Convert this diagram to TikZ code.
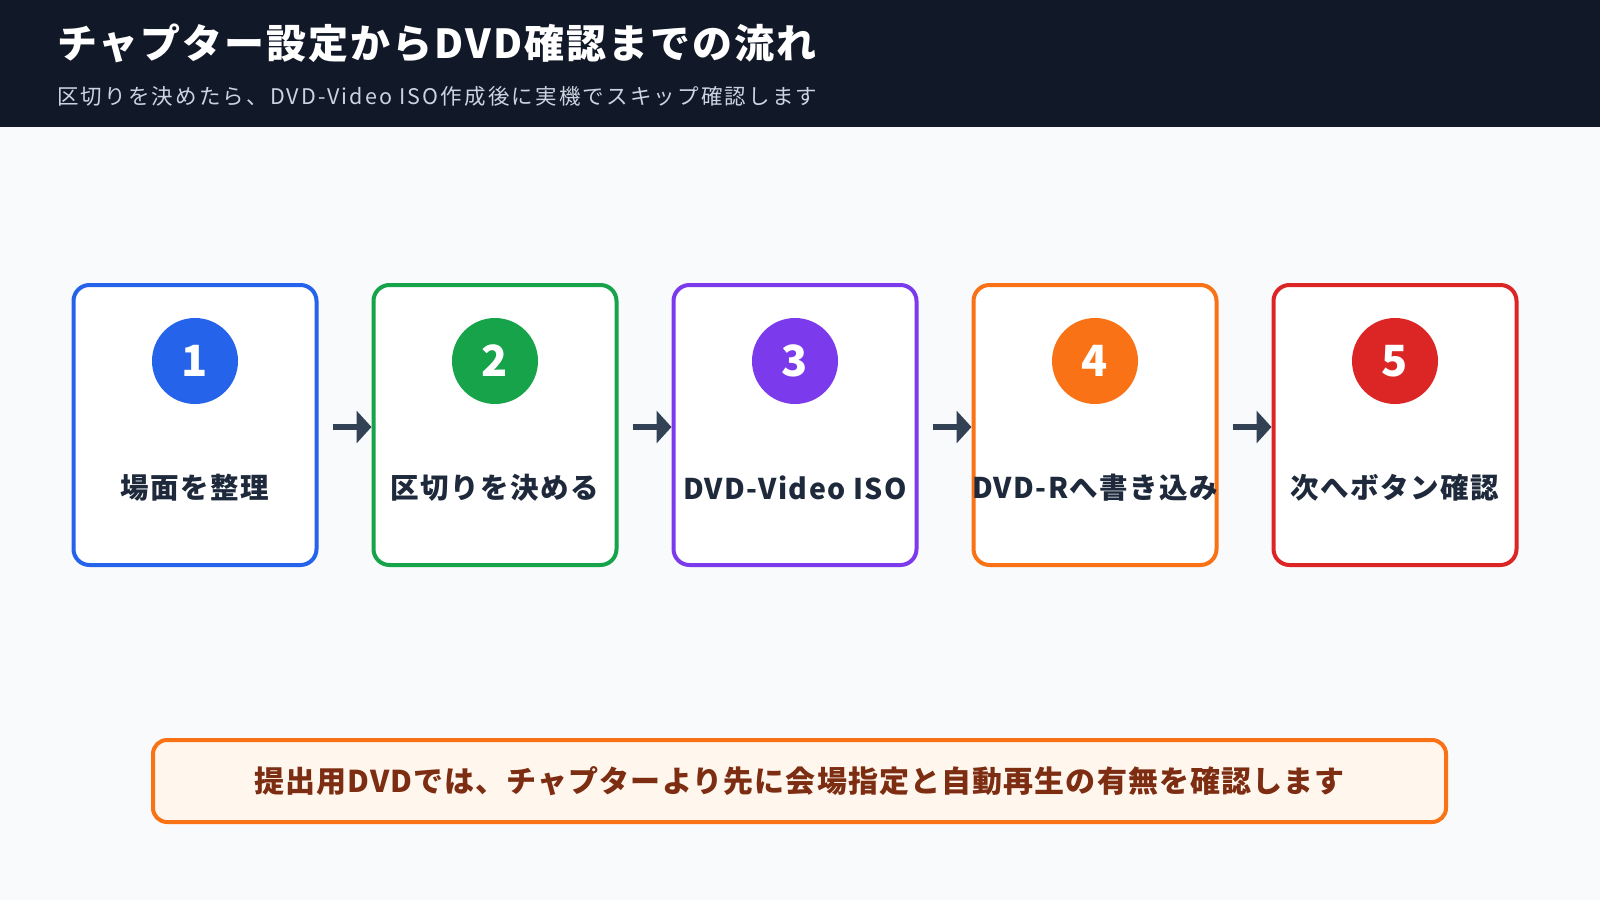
\documentclass[tikz,border=0pt]{standalone}
\usepackage{fontspec}
\setmainfont{Noto Sans CJK JP}
\usetikzlibrary{arrows.meta}
\definecolor{pagebg}{HTML}{F8FAFC}
\definecolor{headbg}{HTML}{111827}
\definecolor{subgray}{HTML}{CBD5E1}
\definecolor{labeltext}{HTML}{1E293B}
\definecolor{arrowcol}{HTML}{334155}
\definecolor{cblue}{HTML}{2563EB}
\definecolor{cgreen}{HTML}{16A34A}
\definecolor{cpurple}{HTML}{7C3AED}
\definecolor{corange}{HTML}{F97316}
\definecolor{cred}{HTML}{DC2626}
\definecolor{notefill}{HTML}{FFF7ED}
\definecolor{notetext}{HTML}{7C2D12}
\begin{document}
\begin{tikzpicture}[x=1pt,y=-1pt,
  stepbox/.style={draw, line width=4pt, fill=white, rounded corners=16pt,
    minimum width=243pt, minimum height=280pt, inner sep=0pt, outer sep=0pt},
  numcirc/.style={circle, minimum size=86pt, inner sep=0pt, text=white,
    font=\fontsize{43}{46}\selectfont\bfseries},
  steplabel/.style={text=labeltext, inner sep=0pt,
    font=\fontsize{28.5}{34}\selectfont\bfseries\addfontfeatures{LetterSpace=5}},
  flowarrow/.style={draw=arrowcol, line width=6pt, shorten <=16pt, shorten >=2pt,
    -{Triangle[length=15pt,width=32pt]}},
  notebox/.style={draw=corange, fill=notefill, line width=4pt, rounded corners=14pt,
    minimum width=1293pt, minimum height=82pt, inner sep=0pt, outer sep=0pt,
    text=notetext, font=\fontsize{30}{36}\selectfont\bfseries\addfontfeatures{LetterSpace=3.7}}
]
\useasboundingbox (0,0) rectangle (1600,900);
\fill[pagebg] (0,0) rectangle (1600,900);
\fill[headbg] (0,0) rectangle (1600,127);
\node[anchor=west, inner sep=0pt, text=white,
  font=\fontsize{40}{48}\selectfont\bfseries\addfontfeatures{LetterSpace=5}] (title) at (57,43) {チャプター設定からDVD確認までの流れ};
\node[anchor=west, inner sep=0pt, text=subgray,
  font=\fontsize{21.5}{26}\selectfont\addfontfeatures{LetterSpace=10}] (subtitle) at (57,96) {区切りを決めたら、DVD-Video ISO作成後に実機でスキップ確認します};

\node[stepbox, draw=cblue] (b1) at (195,425) {};
\node[stepbox, draw=cgreen] (b2) at (495,425) {};
\node[stepbox, draw=cpurple] (b3) at (795,425) {};
\node[stepbox, draw=corange] (b4) at (1095,425) {};
\node[stepbox, draw=cred] (b5) at (1395,425) {};

\node[numcirc, fill=cblue] (n1) at (195,361) {1};
\node[numcirc, fill=cgreen] (n2) at (495,361) {2};
\node[numcirc, fill=cpurple] (n3) at (795,361) {3};
\node[numcirc, fill=corange] (n4) at (1095,361) {4};
\node[numcirc, fill=cred] (n5) at (1395,361) {5};

\node[steplabel] (l1) at (195,488) {場面を整理};
\node[steplabel] (l2) at (495,488) {区切りを決める};
\node[steplabel] (l3) at (795,488) {DVD-Video ISO};
\node[steplabel] (l4) at (1095,488) {DVD-Rへ書き込み};
\node[steplabel] (l5) at (1395,488) {次へボタン確認};

\draw[flowarrow] ([yshift=-2pt]b1.east) -- ([yshift=-2pt]b2.west);
\draw[flowarrow] ([yshift=-2pt]b2.east) -- ([yshift=-2pt]b3.west);
\draw[flowarrow] ([yshift=-2pt]b3.east) -- ([yshift=-2pt]b4.west);
\draw[flowarrow] ([yshift=-2pt]b4.east) -- ([yshift=-2pt]b5.west);

\node[notebox] (note) at (799.5,781) {提出用DVDでは、チャプターより先に会場指定と自動再生の有無を確認します};
\end{tikzpicture}
\end{document}
